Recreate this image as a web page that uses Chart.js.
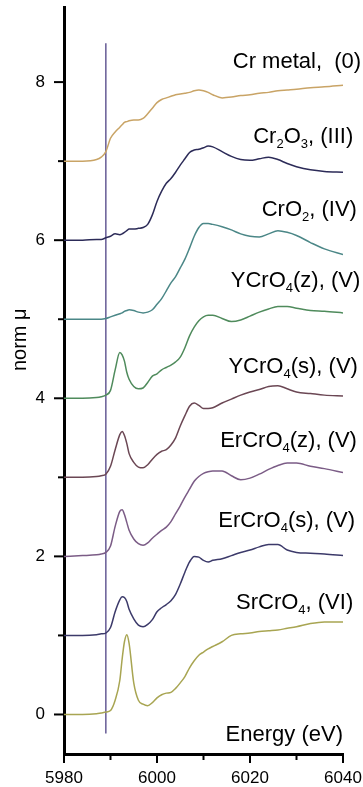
<!DOCTYPE html>
<html>
<head>
<meta charset="utf-8">
<script src="https://cdn.jsdelivr.net/npm/chart.js@4.4.1/dist/chart.umd.min.js"></script>
<style>
  html, body { margin: 0; padding: 0; background: #fff; }
  #wrap { width: 363px; height: 787px; position: relative; }
</style>
</head>
<body>
<div id="wrap"><canvas id="xanes"></canvas></div>
<script>
// Energy grid (eV) shared by all spectra
const energy = [5980, 5984, 5987, 5988, 5989, 5990, 5991, 5992, 5992.5, 5993, 5993.5, 5994, 5995, 5996, 5997, 5998, 5999, 6000, 6001, 6002, 6003, 6004, 6005, 6006, 6007, 6008, 6009, 6010, 6011, 6012, 6014, 6016, 6018, 6020, 6022, 6024, 6026, 6028, 6030, 6033, 6036, 6040];

// normalised mu, already stacked with offsets 7..0
const crMetal  = [7.0, 7.0, 7.02, 7.05, 7.12, 7.29, 7.37, 7.43, 7.46, 7.49, 7.50, 7.51, 7.52, 7.52, 7.54, 7.60, 7.67, 7.74, 7.78, 7.80, 7.82, 7.84, 7.85, 7.86, 7.87, 7.89, 7.90, 7.89, 7.87, 7.84, 7.80, 7.81, 7.83, 7.84, 7.86, 7.87, 7.89, 7.90, 7.91, 7.93, 7.94, 7.96];
const cr2o3    = [6.0, 6.0, 6.01, 6.01, 6.03, 6.05, 6.08, 6.07, 6.08, 6.10, 6.12, 6.14, 6.14, 6.15, 6.16, 6.20, 6.32, 6.49, 6.62, 6.72, 6.78, 6.86, 6.95, 7.03, 7.11, 7.14, 7.15, 7.17, 7.19, 7.18, 7.12, 7.06, 7.02, 7.01, 7.03, 7.05, 7.02, 6.97, 6.93, 6.89, 6.87, 6.86];
const cro2     = [5.0, 5.0, 5.0, 5.0, 5.01, 5.03, 5.05, 5.07, 5.08, 5.10, 5.11, 5.12, 5.11, 5.09, 5.08, 5.09, 5.12, 5.19, 5.26, 5.36, 5.46, 5.54, 5.65, 5.76, 5.90, 6.05, 6.16, 6.21, 6.21, 6.20, 6.17, 6.13, 6.08, 6.05, 6.04, 6.08, 6.12, 6.10, 6.06, 5.97, 5.89, 5.82];
const ycro4z   = [4.0, 4.0, 4.01, 4.02, 4.04, 4.10, 4.36, 4.58, 4.55, 4.47, 4.33, 4.24, 4.15, 4.12, 4.13, 4.20, 4.28, 4.31, 4.36, 4.39, 4.42, 4.46, 4.52, 4.64, 4.79, 4.90, 4.98, 5.03, 5.05, 5.05, 5.01, 4.97, 4.99, 5.04, 5.09, 5.13, 5.16, 5.16, 5.14, 5.11, 5.10, 5.08];
const ycro4s   = [3.0, 3.0, 3.01, 3.02, 3.04, 3.14, 3.35, 3.54, 3.58, 3.53, 3.43, 3.30, 3.19, 3.13, 3.12, 3.16, 3.23, 3.29, 3.33, 3.35, 3.41, 3.50, 3.65, 3.78, 3.90, 3.94, 3.91, 3.87, 3.87, 3.88, 3.94, 3.99, 4.04, 4.08, 4.11, 4.15, 4.16, 4.12, 4.08, 4.06, 4.04, 4.03];
const ercro4z  = [2.0, 2.01, 2.02, 2.03, 2.05, 2.13, 2.38, 2.57, 2.59, 2.53, 2.43, 2.33, 2.22, 2.16, 2.14, 2.17, 2.23, 2.28, 2.33, 2.37, 2.44, 2.54, 2.64, 2.75, 2.85, 2.95, 3.01, 3.05, 3.07, 3.08, 3.08, 3.02, 2.97, 2.99, 3.04, 3.10, 3.15, 3.18, 3.18, 3.14, 3.11, 3.06];
const ercro4s  = [1.0, 1.0, 1.01, 1.02, 1.03, 1.10, 1.30, 1.45, 1.49, 1.48, 1.43, 1.33, 1.21, 1.13, 1.11, 1.14, 1.20, 1.30, 1.35, 1.39, 1.44, 1.52, 1.65, 1.80, 1.93, 2.00, 1.99, 1.95, 1.93, 1.95, 1.97, 2.01, 2.05, 2.08, 2.12, 2.15, 2.15, 2.08, 2.05, 2.04, 2.03, 2.01];
const srcro4   = [0.0, 0.0, 0.01, 0.02, 0.03, 0.05, 0.18, 0.43, 0.70, 0.92, 1.01, 0.90, 0.40, 0.18, 0.13, 0.11, 0.15, 0.21, 0.25, 0.27, 0.28, 0.33, 0.40, 0.48, 0.59, 0.68, 0.75, 0.79, 0.83, 0.86, 0.92, 1.00, 1.02, 1.03, 1.05, 1.06, 1.07, 1.09, 1.11, 1.15, 1.17, 1.17];

const spectra = [crMetal, cr2o3, cro2, ycro4z, ycro4s, ercro4z, ercro4s, srcro4];
// "_n" marks a subscript digit
const sampleLabels = ['Cr metal,  (0)', 'Cr_2O_3, (III)', 'CrO_2, (IV)', 'YCrO_4(z), (V)', 'YCrO_4(s), (V)', 'ErCrO_4(z), (V)', 'ErCrO_4(s), (V)', 'SrCrO_4, (VI)'];

// vertical reference line (edge position)
const edgeEnergy = 5989;
const edgeSpan = [-0.24, 8.49];

const xTicks = [5980, 6000, 6020, 6040];
const yTicks = [0, 2, 4, 6, 8];

// styling
const lineColors = ['#c9a466', '#2c2b58', '#4b8787', '#4f8b5c', '#6b4754', '#7b5c86', '#3c3a6a', '#a8a552'];
// label anchors: [energy of right edge, y value of baseline]
const labelAnchors = [[6043.9, 8.18], [6042.2, 7.23], [6043.0, 6.30], [6043.7, 5.41], [6043.2, 4.32], [6043.0, 3.38], [6042.6, 2.37], [6042.2, 1.33]];
const FONT = '"Liberation Sans", Arial, Helvetica, sans-serif';

function drawSubText(ctx, text, xRight, yBase, size) {
    const parts = text.split(/_(\d)/);
    const big = size + 'px ' + FONT;
    const small = Math.round(size * 0.6) + 'px ' + FONT;
    let total = 0;
    parts.forEach((p, i) => { ctx.font = i % 2 ? small : big; total += ctx.measureText(p).width; });
    let x = xRight - total;
    ctx.textAlign = 'left';
    ctx.textBaseline = 'alphabetic';
    parts.forEach((p, i) => {
        ctx.font = i % 2 ? small : big;
        ctx.fillText(p, x, i % 2 ? yBase + 5 : yBase);
        x += ctx.measureText(p).width;
    });
}

const axisDecor = {
    id: 'axisDecor',
    afterDraw(chart) {
        const { ctx, chartArea, scales: { x, y } } = chart;
        ctx.save();
        ctx.strokeStyle = '#000';
        ctx.lineWidth = 2;
        // x ticks every 10 eV, longer at labelled ones
        for (let v = x.min; v <= x.max; v += 10) {
            const px = x.getPixelForValue(v);
            const len = xTicks.includes(v) ? 9 : 6;
            ctx.beginPath();
            ctx.moveTo(px, chartArea.bottom);
            ctx.lineTo(px, chartArea.bottom + len);
            ctx.stroke();
        }
        for (let v = 0; v <= 8; v++) {
            const py = y.getPixelForValue(v);
            const len = yTicks.includes(v) ? 10 : 6;
            ctx.beginPath();
            ctx.moveTo(chartArea.left, py);
            ctx.lineTo(chartArea.left - len, py);
            ctx.stroke();
        }

        ctx.fillStyle = '#000';
        sampleLabels.forEach((t, i) => {
            const [ex, ey] = labelAnchors[i];
            drawSubText(ctx, t, x.getPixelForValue(ex), y.getPixelForValue(ey), 22);
        });
        drawSubText(ctx, 'Energy (eV)', x.getPixelForValue(6040), y.getPixelForValue(-0.34), 22);

        // y axis title
        ctx.translate(26, y.getPixelForValue(4.74));
        ctx.rotate(-Math.PI / 2);
        ctx.font = '20px ' + FONT;
        ctx.textAlign = 'center';
        ctx.textBaseline = 'alphabetic';
        ctx.fillText('norm \u03bc', 0, 0);
        ctx.restore();
    }
};

const datasets = spectra.map((s, i) => ({
    label: sampleLabels[i],
    data: energy.map((e, k) => ({ x: e, y: s[k] })),
    borderColor: lineColors[i],
    borderWidth: 1.5,
    pointRadius: 0,
    cubicInterpolationMode: 'monotone',
    fill: false
}));
datasets.push({
    label: 'edge',
    data: edgeSpan.map(v => ({ x: edgeEnergy, y: v })),
    borderColor: '#5b4f8e',
    borderWidth: 1.4,
    pointRadius: 0,
    fill: false
});

new Chart(document.getElementById('xanes'), {
    type: 'line',
    data: { datasets },
    options: {
        responsive: true,
        maintainAspectRatio: false,
        animation: false,
        layout: { padding: { top: 7, right: 20, left: 0, bottom: 0 } },
        plugins: { legend: { display: false }, tooltip: { enabled: false } },
        scales: {
            x: {
                type: 'linear',
                min: 5980,
                max: 6040,
                // keep the plot box where the original has it
                afterFit: s => { s.height = 33; s.paddingLeft = 0; s.paddingRight = 0; },
                grid: { display: false, drawTicks: false },
                border: { display: true, color: '#000', width: 3 },
                ticks: {
                    stepSize: 20,
                    padding: 14,
                    color: '#000',
                    font: { family: FONT, size: 17 },
                    maxRotation: 0,
                    callback: v => xTicks.includes(v) ? String(v) : ''
                }
            },
            y: {
                min: -0.5,
                max: 8.95,
                afterFit: s => { s.width = 64; s.paddingTop = 0; s.paddingBottom = 0; },
                grid: { display: false, drawTicks: false },
                border: { display: true, color: '#000', width: 3 },
                ticks: {
                    stepSize: 1,
                    includeBounds: false,
                    padding: 19,
                    color: '#000',
                    font: { family: FONT, size: 17 },
                    callback: v => yTicks.includes(v) ? String(v) : ''
                }
            }
        }
    },
    plugins: [axisDecor]
});
</script>
</body>
</html>
